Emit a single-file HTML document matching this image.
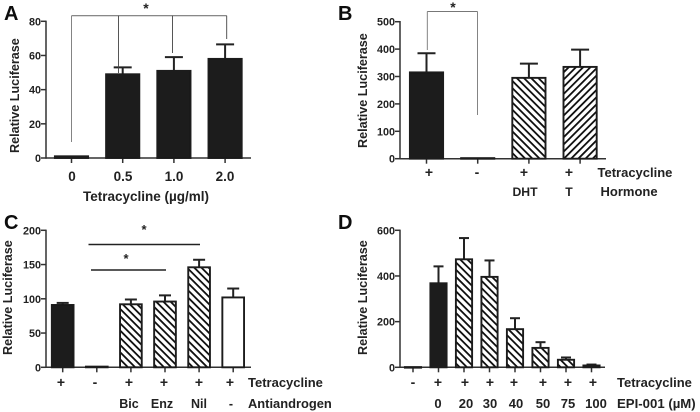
<!DOCTYPE html>
<html>
<head>
<meta charset="utf-8">
<style>
html,body{margin:0;padding:0;background:#fff;width:700px;height:412px;overflow:hidden}
svg{display:block}
text{font-family:"Liberation Sans",sans-serif;font-weight:bold;fill:#222}
</style>
</head>
<body>
<svg id="fig" width="700" height="412" viewBox="0 0 700 412" xmlns="http://www.w3.org/2000/svg">
<defs>
<filter id="soft" x="-2%" y="-2%" width="104%" height="104%"><feGaussianBlur stdDeviation="0.35"/></filter>
<pattern id="hatchBack" patternUnits="userSpaceOnUse" width="5.1" height="5.1" patternTransform="rotate(45)"><rect width="5.1" height="5.1" fill="#fff"/><rect width="5.1" height="1.8" fill="#111"/></pattern>
<pattern id="hatchFwd" patternUnits="userSpaceOnUse" width="5.1" height="5.1" patternTransform="rotate(-45)"><rect width="5.1" height="5.1" fill="#fff"/><rect width="5.1" height="1.8" fill="#111"/></pattern>
</defs>
<g id="root" filter="url(#soft)"></g>
</svg>
<script>
const aCategories = ['0','0.5','1.0','2.0'];
const aValues = [1,49,51,58];
const aErrorTops = [1,53,59,66.5];
const aTicks = [0,20,40,60,80];
const bCategories = ['tet-plus','tet-minus','dht','t'];
const bValues = [315,2,295,335];
const bErrorTops = [385,2,347,398];
const bTicks = [0,100,200,300,400,500];
const cCategories = ['control','no-tet','bic','enz','nil','none'];
const cValues = [91,1,92,96,146,102];
const cErrorTops = [94,1,99,105,157,115];
const cTicks = [0,50,100,150,200];
const dCategories = ['no-tet','0','20','30','40','50','75','100'];
const dValues = [1,368,473,396,167,85,33,8];
const dErrorTops = [1,442,566,468,215,110,43,12];
const dTicks = [0,200,400,600];

const root = document.getElementById('root');
const NS = 'http://www.w3.org/2000/svg';
function make(tag, attrs, name, parent){
  const el = document.createElementNS(NS, tag);
  for (const k in attrs) el.setAttribute(k, attrs[k]);
  
  
  (parent || root).appendChild(el);
  return el;
}
function label(x, y, str, size, name, anchor, rot){
  const attrs = {x:x, y:y, 'font-size':size, 'text-anchor':anchor || 'middle'};
  if (rot) attrs.transform = 'rotate(-90 ' + x + ' ' + y + ')';
  const el = make('text', attrs, name);
  el.textContent = str;
  return el;
}
function line(x1,y1,x2,y2,w,color,name){
  return make('line',{x1:x1,y1:y1,x2:x2,y2:y2,'stroke-width':w,stroke:color},name);
}
function panel(o){
  const yScale = v => o.y0 - (v / o.max) * (o.y0 - o.yTop);
  const xScale = i => o.first + i * o.step;
  line(o.x0, o.y0, o.xEnd, o.y0, 1.5, '#333', o.id + '-x-axis');
  line(o.x0, o.y0 + 0.7, o.x0, o.yTop - 0.7, 1.5, '#333', o.id + '-y-axis');
  o.ticks.forEach(t => {
    const y = yScale(t);
    line(o.x0 - 5, y, o.x0, y, 1.5, '#333', o.id + '-y-tick-' + t);
    label(o.x0 - 5, y + 4, String(t), 10.8, o.id + '-y-label-' + t, 'end');
  });
  o.values.forEach((v, i) => {
    const cx = xScale(i), y = yScale(v), top = yScale(o.tops[i]);
    line(cx, o.y0, cx, o.y0 + 5, 1.5, '#333', o.id + '-x-tick-' + o.cats[i]);
    if (o.tops[i] > v) {
      line(cx, y, cx, top, 2, '#222', o.id + '-error-bar-' + o.cats[i]);
      line(cx - o.cap, top, cx + o.cap, top, 2, '#222', o.id + '-error-cap-' + o.cats[i]);
    }
    const fill = o.fills[i];
    make('rect', {x:cx - o.w/2 + 0.9, y:y, width:o.w - 1.8, height:Math.max(o.y0 - y, 0.6),
      fill:fill, stroke:'#1a1a1a', 'stroke-width':1.9}, o.id + '-bar-' + o.cats[i]);
  });
}
const K = '#1c1c1c', HB = 'url(#hatchBack)', HF = 'url(#hatchFwd)', W = '#fff';

panel({id:'a',cats:aCategories,values:aValues,tops:aErrorTops,ticks:aTicks,max:80,x0:46,xEnd:251,y0:158,yTop:21.3,first:71.5,step:51.2,w:35,cap:9,fills:[K,K,K,K]});
panel({id:'b',cats:bCategories,values:bValues,tops:bErrorTops,ticks:bTicks,max:500,x0:400,xEnd:606,y0:158.7,yTop:21.7,first:426.5,step:51.2,w:35,cap:9,fills:[K,K,HB,HF]});
panel({id:'c',cats:cCategories,values:cValues,tops:cErrorTops,ticks:cTicks,max:200,x0:46,xEnd:251,y0:367.3,yTop:230.3,first:62.7,step:34.1,w:23.5,cap:6,fills:[K,K,HB,HB,HB,W]});
panel({id:'d',cats:dCategories,values:dValues,tops:dErrorTops,ticks:dTicks,max:600,x0:400,xEnd:605,y0:367.3,yTop:230.3,first:413,step:25.5,w:18,cap:5,fills:[K,K,HB,HB,HB,HB,HB,HB]});

// panel letters
label(4,20,'A',20,'panel-a-letter','start').style.fill = '#111';
label(338,20,'B',20,'panel-b-letter','start').style.fill = '#111';
label(4,229,'C',20,'panel-c-letter','start').style.fill = '#111';
label(338,229,'D',20,'panel-d-letter','start').style.fill = '#111';

// y-axis titles
label(19,153,'Relative Luciferase',12.6,'a-y-axis-title','start',true);
label(367,148,'Relative Luciferase',12.6,'b-y-axis-title','start',true);
label(12,355,'Relative Luciferase',12.6,'c-y-axis-title','start',true);
label(367,355,'Relative Luciferase',12.6,'d-y-axis-title','start',true);

// panel A labels
[[72,'0'],[123,'0.5'],[174,'1.0'],[225,'2.0']].forEach(p => label(p[0],181,p[1],13.5,'a-x-label-'+p[1]));
label(146,201,'Tetracycline (µg/ml)',13.5,'a-x-axis-title');

// panel B labels
[[429,'+'],[477,'-'],[524,'+'],[569,'+']].forEach((p,i) => label(p[0],177,p[1],14,'b-tet-sign-'+i));
label(597.5,177,'Tetracycline',13,'b-tetracycline-label','start');
label(525,196,'DHT',12.2,'b-dht-label');
label(569,196,'T',12.2,'b-t-label');
label(600.5,196,'Hormone',13,'b-hormone-label','start');

// panel C labels
[[61,'+'],[95,'-'],[129,'+'],[164,'+'],[199,'+'],[230,'+']].forEach((p,i) => label(p[0],387,p[1],14,'c-tet-sign-'+i));
label(248,387,'Tetracycline',13,'c-tetracycline-label','start');
[[129,'Bic'],[162,'Enz'],[199,'Nil'],[231,'-']].forEach(p => label(p[0],408,p[1],12.5,'c-antiandrogen-'+p[1]));
label(248,408,'Antiandrogen',12.9,'c-antiandrogen-label','start');

// panel D labels
[[413,'-'],[438,'+'],[465,'+'],[490,'+'],[514,'+'],[543,'+'],[568,'+'],[593,'+']].forEach((p,i) => label(p[0],387,p[1],14,'d-tet-sign-'+i));
label(617,387,'Tetracycline',13,'d-tetracycline-label','start');
[[438,'0'],[466,'20'],[490,'30'],[516,'40'],[543,'50'],[568,'75'],[596,'100']].forEach(p => label(p[0],408,p[1],13,'d-epi-dose-'+p[1]));
label(617,408,'EPI-001 (µM)',13.2,'d-epi-label','start');

// significance annotations
const G = '#777';
line(71.5,15.7,226.7,15.7,1.1,G,'a-bracket-top');
line(71.5,15.7,71.5,142,0.9,G,'a-bracket-drop-0');
line(118.5,15.7,118.5,73,0.9,'#444','a-bracket-drop-1');
line(172.5,15.7,172.5,53,0.9,'#444','a-bracket-drop-2');
line(226.7,15.7,226.7,39,0.9,'#444','a-bracket-drop-3');
label(146,13,'*',14,'a-significance-star');
line(427.3,11.5,477.5,11.5,0.9,G,'b-bracket-top');
line(427.3,11.5,427.3,50,0.9,G,'b-bracket-left');
line(477.5,11.5,477.5,115,0.9,G,'b-bracket-right');
label(453,12,'*',14,'b-significance-star');
line(88.5,244.5,200,244.5,1.6,'#222','c-significance-line-nil');
line(91,270,166,270,1.6,'#222','c-significance-line-enz');
label(144,234,'*',13,'c-star-nil');
label(126,263,'*',13,'c-star-enz');
</script>
</body>
</html>
